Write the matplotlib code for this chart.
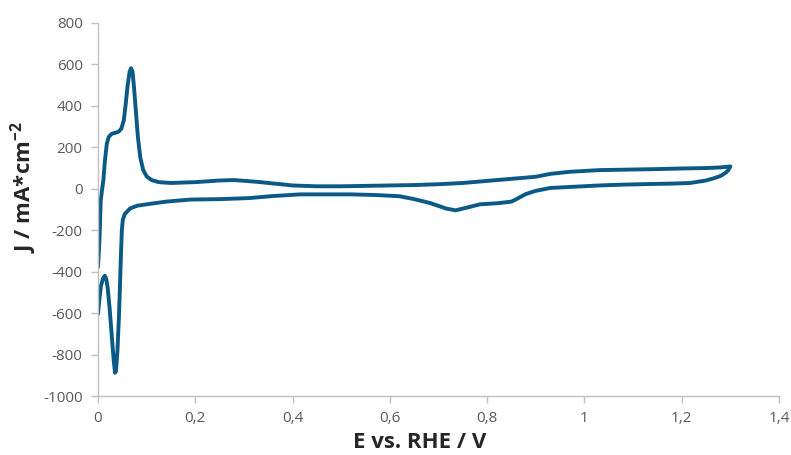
import matplotlib.pyplot as plt
from matplotlib.ticker import FixedLocator, FuncFormatter
import numpy as np

plt.rcParams['font.family'] = ['Open Sans', 'DejaVu Sans']
plt.rcParams['mathtext.fontset'] = 'custom'
plt.rcParams['mathtext.bf'] = 'Open Sans:bold'
plt.rcParams['mathtext.rm'] = 'Open Sans:bold'
plt.rcParams['mathtext.default'] = 'bf'
plt.rcParams['axes.unicode_minus'] = False

# anodic sweep (0 -> 1.3 V)
E_anodic = [0.000, 0.003, 0.0055, 0.008, 0.011, 0.014, 0.018, 0.022, 0.028, 0.035,
            0.042, 0.048, 0.053, 0.057, 0.061, 0.065, 0.068, 0.071, 0.074, 0.078,
            0.082, 0.087, 0.093, 0.100, 0.110, 0.125, 0.150, 0.200, 0.250, 0.280,
            0.330, 0.400, 0.450, 0.500, 0.550, 0.600, 0.650, 0.700, 0.750, 0.800,
            0.850, 0.900, 0.930, 0.970, 1.030, 1.100, 1.150, 1.200, 1.250, 1.280, 1.300]
J_anodic = [-378, -250, -60, -10, 40, 130, 215, 250, 265, 270,
            275, 290, 330, 410, 500, 565, 582, 565, 490, 370,
            250, 150, 90, 60, 42, 32, 28, 32, 40, 42,
            33, 16, 12, 12, 14, 16, 18, 22, 28, 38,
            48, 58, 72, 82, 90, 93, 95, 98, 100, 103, 108]

# cathodic sweep (1.3 -> 0 V)
E_cathodic = [1.300, 1.296, 1.290, 1.280, 1.268, 1.250, 1.217, 1.180, 1.135, 1.080,
              1.030, 0.980, 0.930, 0.900, 0.880, 0.860, 0.850, 0.820, 0.785, 0.760,
              0.735, 0.715, 0.683, 0.650, 0.620, 0.570, 0.520, 0.470, 0.415, 0.360,
              0.310, 0.250, 0.190, 0.140, 0.100, 0.080, 0.066, 0.055, 0.051, 0.049,
              0.047, 0.045, 0.043, 0.040, 0.037, 0.035, 0.032, 0.028, 0.024, 0.020,
              0.017, 0.014, 0.010, 0.006, 0.003, 0.000]
J_cathodic = [108, 90, 77, 62, 52, 40, 28, 25, 23, 20,
              16, 10, 4, -10, -25, -50, -62, -70, -75, -90,
              -104, -95, -69, -50, -36, -30, -27, -27, -27, -35,
              -45, -50, -52, -62, -75, -82, -95, -122, -150, -200,
              -330, -480, -620, -780, -880, -888, -820, -700, -580, -480,
              -435, -420, -435, -470, -530, -605]

x_ticks = [0, 0.2, 0.4, 0.6, 0.8, 1.0, 1.2, 1.4]
y_ticks = [-1000, -800, -600, -400, -200, 0, 200, 400, 600, 800]

E = np.array(E_anodic + E_cathodic)
J = np.array(J_anodic + J_cathodic)

fig = plt.figure(figsize=(7.91, 4.55), dpi=100)
ax = fig.add_axes([98 / 791, 59 / 455, 681 / 791, 373 / 455])

ax.plot(E, J, color='#0b5985', linewidth=2.8, solid_joinstyle='round', solid_capstyle='round')

ax.set_xlim(0, 1.4)
ax.set_ylim(-1000, 800)
ax.xaxis.set_major_locator(FixedLocator(x_ticks))
ax.yaxis.set_major_locator(FixedLocator(y_ticks))
ax.xaxis.set_major_formatter(FuncFormatter(lambda v, p: ('%g' % round(v, 1)).replace('.', ',')))

for s in ['top', 'right']:
    ax.spines[s].set_visible(False)
for s in ['left', 'bottom']:
    ax.spines[s].set_color('#bfbfbf')
    ax.spines[s].set_linewidth(1.0)
ax.tick_params(axis='both', direction='out', length=5, width=1.0, color='#bfbfbf',
               labelcolor='#595959', labelsize=11, pad=6)

ax.set_xlabel('E vs. RHE / V', fontsize=16, fontweight='bold', color='#262626', va='center')
ax.set_ylabel(r'J / mA*cm$^{-2}$', fontsize=16, fontweight='bold', color='#262626', va='center')
ax.xaxis.set_label_coords(0.472, -0.125)
ax.yaxis.set_label_coords(-0.110, 0.56)

plt.savefig('out.png', dpi=100)
